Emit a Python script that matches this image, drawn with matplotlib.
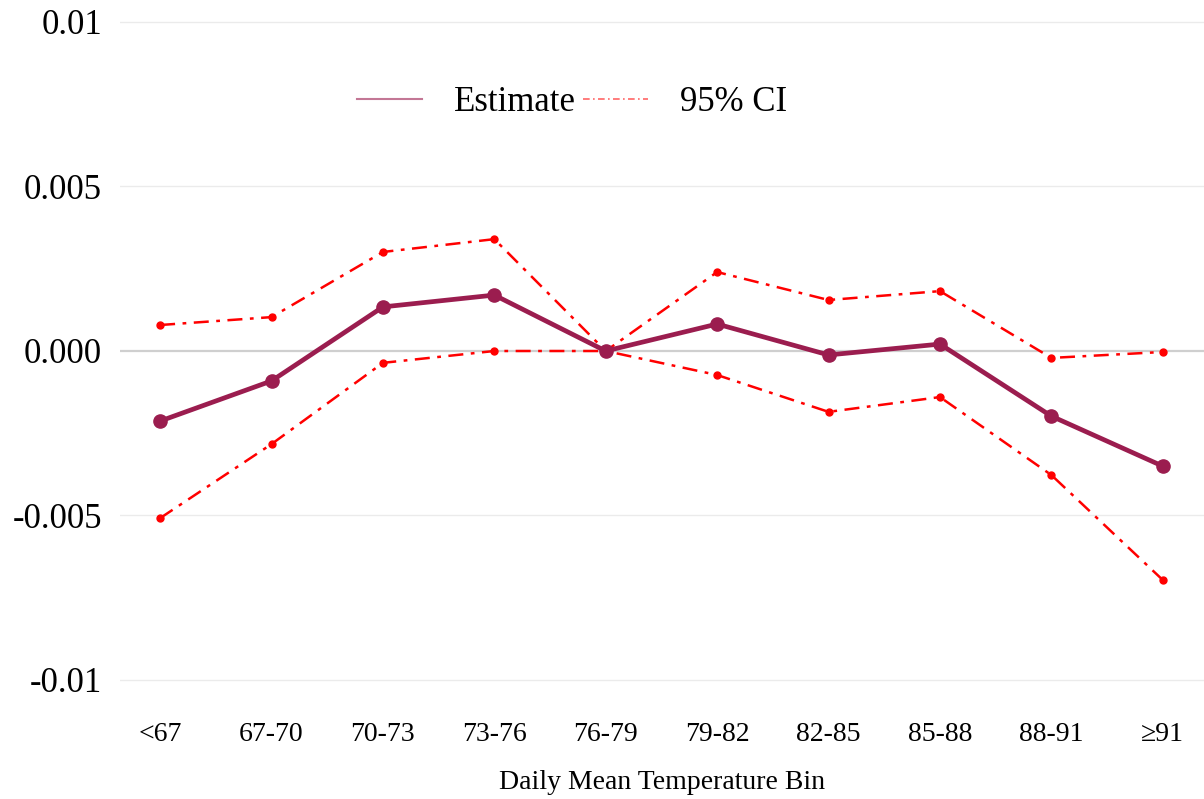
import matplotlib
matplotlib.use('Agg')
import matplotlib.pyplot as plt
from matplotlib.lines import Line2D

# Данные
bins = ['<67', '67-70', '70-73', '73-76', '76-79', '79-82', '82-85', '85-88', '88-91', '≥91']
estimate = [-0.00213, -0.00091, 0.00134, 0.00170, 0.0, 0.00082, -0.00012, 0.00021, -0.00198, -0.00350]
ci_upper = [0.00079, 0.00103, 0.00301, 0.00340, 0.0, 0.00240, 0.00155, 0.00182, -0.00021, -0.00003]
ci_lower = [-0.00508, -0.00283, -0.00036, 0.0, 0.0, -0.00073, -0.00185, -0.00140, -0.00377, -0.00696]

yticks = [-0.01, -0.005, 0.0, 0.005, 0.01]
ytick_labels = ['-0.01', '-0.005', '0.000', '0.005', '0.01']

plt.rcParams['font.family'] = ['Liberation Serif', 'DejaVu Serif']

est_color = '#9B1D4F'
ci_color = '#FF0000'

fig = plt.figure(figsize=(12.04, 7.99), dpi=100)
ax = fig.add_axes([120 / 1204, 1 - 700 / 799, 1 - 120 / 1204, 695 / 799])

x = list(range(1, len(bins) + 1))

# Сетка
for t in yticks:
    ax.axhline(t, color='#cfcfcf' if t == 0 else '#ebebeb',
               lw=1.6 if t == 0 else 1.0, zorder=0)

# Доверительный интервал
ax.plot(x, ci_upper, color=ci_color, lw=1.8, linestyle=(0, (6, 3, 1.5, 3)),
        marker='o', markersize=5, zorder=2)
ax.plot(x, ci_lower, color=ci_color, lw=1.8, linestyle=(0, (6, 3, 1.5, 3)),
        marker='o', markersize=5, zorder=2)

# Оценка
ax.plot(x, estimate, color=est_color, lw=3.4, marker='o', markersize=9.5, zorder=3)

ax.set_xlim(0.64, 10.37)
ax.set_ylim(-0.01 - 20 / 32900, 0.01 + 17 / 32900)
ax.set_xticks(x)
ax.set_xticklabels(bins, fontsize=20)
ax.set_yticks(yticks)
ax.set_yticklabels(ytick_labels, fontsize=25)
ax.tick_params(length=0)
ax.tick_params(axis='y', pad=13)
ax.tick_params(axis='x', pad=15.5)
for s in ax.spines.values():
    s.set_visible(False)

ax.set_xlabel('Daily Mean Temperature Bin', fontsize=20, labelpad=17)

handles = [
    Line2D([], [], color=est_color, lw=1.5, alpha=0.6),
    Line2D([], [], color=ci_color, lw=1.2, alpha=0.6, linestyle=(0, (4, 2, 1, 2))),
]
ax.legend(handles, ['Estimate', '95% CI'], loc='center', bbox_to_anchor=(0.417, 0.86),
          ncol=2, frameon=False, fontsize=25, handlelength=1.87, handletextpad=0.92,
          columnspacing=0.2)

fig.savefig('out.png', dpi=100)
